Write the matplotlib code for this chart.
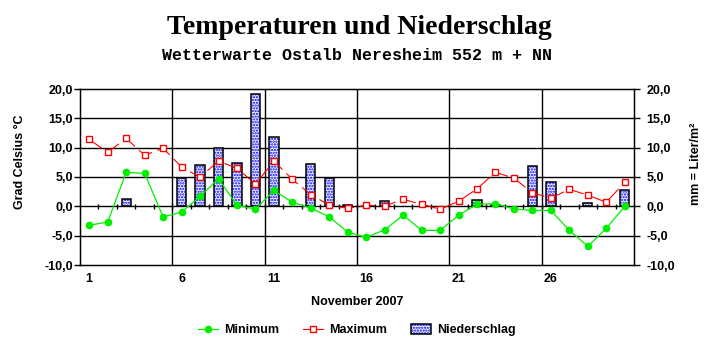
import numpy as np
import matplotlib.pyplot as plt
from matplotlib.lines import Line2D
from matplotlib.patches import Rectangle
from matplotlib.legend_handler import HandlerTuple

# daily values, November 2007
days = list(range(1, 31))
t_min = [-3.2, -2.7, 5.8, 5.6, -1.8, -1.0, 1.7, 4.7, 0.2, -0.5,
         2.7, 0.7, -0.3, -1.8, -4.4, -5.3, -4.0, -1.5, -4.1, -4.1,
         -1.5, 0.35, 0.45, -0.45, -0.7, -0.7, -4.1, -6.8, -3.75, 0.0]
t_max = [11.4, 9.2, 11.6, 8.7, 9.9, 6.7, 5.0, 7.7, 6.5, 3.8,
         7.7, 4.6, 2.0, 0.2, -0.35, 0.2, 0.05, 1.2, 0.35, -0.5,
         0.85, 3.0, 5.8, 4.8, 2.3, 1.4, 2.9, 1.9, 0.7, 4.1]
precip = [0, 0, 1.25, 0, 0, 4.8, 7.0, 9.9, 7.4, 19.1,
          11.8, 0, 7.2, 4.8, 0.25, 0, 0.9, 0, 0, 0,
          0, 1.0, 0.15, 0, 6.8, 4.1, 0, 0.5, 0, 2.8]
xtick_days = [1, 6, 11, 16, 21, 26]
yticks = [-10, -5, 0, 5, 10, 15, 20]
ytick_labels = ['-10,0', '-5,0', '0,0', '5,0', '10,0', '15,0', '20,0']

plt.rcParams['font.family'] = 'Liberation Sans'
plt.rcParams['font.weight'] = 'bold'
plt.rcParams['hatch.linewidth'] = 1.1

fig = plt.figure(figsize=(7.15, 3.52), dpi=100)
ax = fig.add_axes([80 / 715, 1 - 265 / 352, 554 / 715, 176 / 352])

# precipitation bars: blue dots + black outline (no outline for dry days)
edge_w = [1.1 if p > 0 else 0 for p in precip]
ax.bar(days, precip, 0.5, color='#f0f2ff', edgecolor='#0000ff', hatch='......',
       linewidth=0, zorder=2)
ax.bar(days, precip, 0.5, fill=False, edgecolor='black', linewidth=edge_w, zorder=3)

ax.plot(days, t_min, color='#00ee00', linewidth=0.9, marker='o', markersize=4.5,
        markerfacecolor='#00ee00', markeredgecolor='#00ee00', zorder=5)
ax.plot(days, t_max, color='#ff0000', linewidth=0.8, dashes=(14, 5), marker='s',
        markersize=4, markerfacecolor='white', markeredgecolor='#ff0000',
        markeredgewidth=1.0, zorder=4)

ax.set_xlim(0.5, 30.5)
ax.set_ylim(-10, 20)

# grid
for y in yticks[1:-1]:
    ax.axhline(y, color='black', linewidth=1.0, zorder=1)
for x in [5.5, 10.5, 15.5, 20.5, 25.5]:
    ax.axvline(x, color='black', linewidth=1.0, zorder=1)
# small day ticks on zero line
ax.vlines(np.arange(1.5, 30.5, 1.0), -0.38, 0.38, color='black', linewidth=1.0, zorder=1)

for sp in ax.spines.values():
    sp.set_linewidth(1.0)

ax.set_xticks(xtick_days)
ax.set_xticklabels([str(d) for d in xtick_days], fontsize=9, fontweight='bold')
ax.tick_params(axis='x', length=0, pad=6)
ax.set_yticks(yticks)
ax.set_yticklabels(ytick_labels, fontsize=9, fontweight='bold')
ax.tick_params(axis='y', length=4, width=1.0, pad=1)

ax2 = ax.twinx()
ax2.set_ylim(-10, 20)
ax2.set_yticks(yticks)
ax2.set_yticklabels(ytick_labels, fontsize=9, fontweight='bold')
ax2.tick_params(axis='y', length=4, width=1.0, pad=5)

fig.text(20 / 715, 1 - 162 / 352, 'Grad Celsius °C', rotation=90, ha='center',
         va='center', fontsize=9, fontweight='bold')
fig.text(696 / 715, 1 - 164 / 352, 'mm = Liter/m²', rotation=90, ha='center',
         va='center', fontsize=9, fontweight='bold')
fig.text(357 / 715, 1 - 302 / 352, 'November 2007', ha='center', va='center',
         fontsize=9, fontweight='bold')

fig.text(0.503, 1 - 27 / 352, 'Temperaturen und Niederschlag', ha='center',
         va='center', fontsize=20, fontweight='bold', family='Liberation Serif')
fig.text(0.5, 1 - 55 / 352, 'Wetterwarte Ostalb Neresheim 552 m + NN',
         ha='center', va='center', fontsize=12, fontweight='bold',
         family='Liberation Mono')

# legend
h_min = Line2D([], [], color='#00ee00', linewidth=0.9, marker='o', markersize=4.5)
h_max = Line2D([], [], color='#ff0000', linewidth=0.8, marker='s', markersize=4,
               markerfacecolor='white', markeredgewidth=1.0)
h_pr1 = Rectangle((0, 0), 1, 1, facecolor='#f0f2ff', edgecolor='#0000ff',
                  hatch='......', linewidth=0)
h_pr2 = Rectangle((0, 0), 1, 1, fill=False, edgecolor='black', linewidth=1.1)
fig.legend([h_min, h_max, (h_pr1, h_pr2)], ['Minimum', 'Maximum', 'Niederschlag'],
           handler_map={tuple: HandlerTuple(ndivide=1, pad=0)},
           loc='center', bbox_to_anchor=(357 / 715, 1 - 330 / 352), ncol=3,
           frameon=False, handlelength=1.6, handleheight=0.9,
           handletextpad=0.5, columnspacing=1.9, prop={'weight': 'bold', 'size': 9})

fig.savefig('out.png', dpi=100)
